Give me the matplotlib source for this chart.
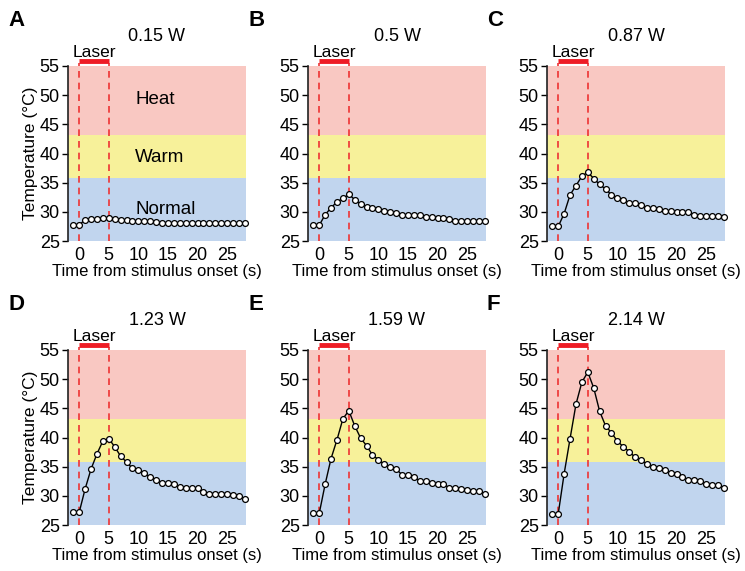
import numpy as np
import matplotlib.pyplot as plt

plt.rcParams['font.family'] = ['Liberation Sans', 'DejaVu Sans']

# time points (s) relative to stimulus onset
t = np.arange(-1, 29)

powers = ['0.15 W', '0.5 W', '0.87 W', '1.23 W', '1.59 W', '2.14 W']
letters = ['A', 'B', 'C', 'D', 'E', 'F']

temp_015 = [27.8, 27.8, 28.6, 28.7, 28.7, 29.0, 29.0, 28.7, 28.6, 28.6,
            28.4, 28.4, 28.4, 28.4, 28.2, 28.1, 28.1, 28.1, 28.1, 28.1,
            28.1, 28.1, 28.1, 28.1, 28.1, 28.1, 28.1, 28.1, 28.1, 28.1]
temp_050 = [27.7, 27.7, 29.5, 30.7, 31.7, 32.3, 33.0, 32.1, 31.3, 30.9,
            30.7, 30.5, 30.1, 29.9, 29.8, 29.5, 29.5, 29.5, 29.5, 29.1,
            29.1, 28.9, 28.9, 28.7, 28.5, 28.5, 28.5, 28.5, 28.5, 28.5]
temp_087 = [27.5, 27.5, 29.7, 32.9, 34.5, 36.1, 36.8, 35.7, 34.7, 33.9,
            32.9, 32.4, 32.0, 31.6, 31.5, 31.1, 30.7, 30.7, 30.5, 30.1,
            30.1, 29.9, 29.9, 29.9, 29.5, 29.3, 29.3, 29.3, 29.3, 29.1]
temp_123 = [27.2, 27.2, 31.2, 34.6, 37.2, 39.4, 39.8, 38.4, 36.8, 35.8,
            34.7, 34.4, 33.9, 33.2, 32.8, 32.2, 32.2, 32.0, 31.5, 31.3,
            31.3, 31.3, 30.6, 30.4, 30.4, 30.4, 30.4, 30.2, 29.9, 29.5]
temp_159 = [27.0, 27.0, 32.0, 36.4, 39.6, 43.2, 44.6, 42.0, 39.9, 38.6,
            37.0, 36.2, 35.4, 35.0, 34.6, 33.6, 33.6, 33.2, 32.6, 32.6,
            32.2, 32.0, 32.0, 31.4, 31.4, 31.2, 31.0, 30.8, 30.8, 30.4]
temp_214 = [26.9, 26.9, 33.8, 39.8, 45.7, 49.5, 51.2, 48.5, 44.5, 42.0,
            40.8, 39.4, 38.4, 37.6, 36.6, 36.2, 35.4, 35.0, 34.8, 34.4,
            34.0, 33.8, 33.2, 32.8, 32.8, 32.6, 32.0, 31.8, 31.8, 31.4]
temps = [temp_015, temp_050, temp_087, temp_123, temp_159, temp_214]

# temperature zones (degC)
zone_names = ['Heat', 'Warm', 'Normal']
zone_lo = [43.1, 35.8, 25]
zone_hi = [55, 43.1, 35.8]
zone_colors = ['#f9c8c2', '#f7f19a', '#c1d5ee']
zone_label_y = [49.3, 39.4, 30.4]

laser_on, laser_off = 0, 5

W, H = 745, 571
fig = plt.figure(figsize=(W / 100, H / 100), dpi=100)

col_left = [68, 308, 547]
row_top = [66, 350]
ax_w, ax_h = 178, 175

for i in range(6):
    r, c = divmod(i, 3)
    left = col_left[c] / W
    bottom = (H - row_top[r] - ax_h) / H
    ax = fig.add_axes([left, bottom, ax_w / W, ax_h / H])

    for name, lo, hi, col in zip(zone_names, zone_lo, zone_hi, zone_colors):
        ax.axhspan(lo, hi, color=col, lw=0, zorder=0)

    for xv in (laser_on, laser_off):
        ax.plot([xv, xv], [25, 55.6], color='#ee3333', ls=(0, (4, 3)), lw=1.2,
                clip_on=False, zorder=1)
    ax.plot([laser_on, laser_off], [55.8, 55.8], color='#ee1c25', lw=3.5,
            solid_capstyle='butt', clip_on=False)
    ax.text((laser_on + laser_off) / 2, 56.6, 'Laser', ha='center',
            va='baseline', fontsize=12.5)

    ax.plot(t, temps[i], color='black', lw=1.0, marker='o', ms=4.2,
            mfc='white', mec='black', mew=0.9, zorder=3, clip_on=False)

    ax.set_xlim(-1.9, 28.2)
    ax.set_ylim(25, 55)
    ax.set_yticks(np.arange(25, 56, 5))
    ax.set_xticks(np.arange(0, 26, 5))
    ax.tick_params(axis='x', length=0, labelsize=13, pad=4)
    ax.tick_params(axis='y', length=4, width=1, labelsize=13, pad=2)
    for s in ('top', 'right', 'bottom'):
        ax.spines[s].set_visible(False)
    ax.spines['left'].set_linewidth(1.2)
    ax.spines['left'].set_color('#222222')

    ax.set_xlabel('Time from stimulus onset (s)', fontsize=12, labelpad=0)
    if c == 0:
        ax.set_ylabel('Temperature (°C)', fontsize=12.5, labelpad=1)
    ax.set_title(powers[i], fontsize=13, pad=18)

    fig.text((col_left[c] - 60) / W, 1 - (row_top[r] - 46) / H, letters[i],
             fontsize=16, fontweight='bold', ha='left', va='center')

    if i == 0:
        for name, yv in zip(zone_names, zone_label_y):
            ax.text(9.5, yv, name, fontsize=13.5, ha='left', va='center')

fig.savefig('out.png', dpi=100)
